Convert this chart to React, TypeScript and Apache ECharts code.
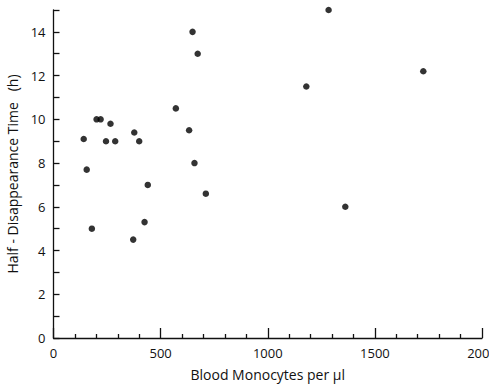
import React, { useEffect, useRef } from "react";
import * as echarts from "echarts";

const monocytes = [141, 155, 201, 220, 245, 266, 288, 179, 377, 400, 372, 425, 440, 571, 633, 649, 658, 673, 711, 1180, 1284, 1362, 1726];
const halfTime = [9.1, 7.7, 10.0, 10.0, 9.0, 9.8, 9.0, 5.0, 9.4, 9.0, 4.5, 5.3, 7.0, 10.5, 9.5, 14.0, 8.0, 13.0, 6.6, 11.5, 15.0, 6.0, 12.2];
const xTitle = "Blood Monocytes per \u03bcl";
const yTitle = "Half - Disappearance Time   (h)";

export default function App() {
  const ref = useRef<HTMLDivElement>(null);
  useEffect(() => {
    const chart = echarts.init(ref.current!, null, { renderer: "svg" });
    const font = "Open Sans";
    chart.setOption({
      animation: false,
      backgroundColor: "#fff",
      textStyle: { fontFamily: font, color: "#111" },
      grid: { left: 53.5, right: 7, top: 10, bottom: 47, outerBoundsMode: "none", containLabel: false },
      xAxis: {
        type: "value",
        min: 0,
        max: 2000,
        interval: 500,
        name: xTitle,
        nameLocation: "middle",
        nameGap: 29,
        nameTextStyle: { fontSize: 14, color: "#111", fontFamily: font },
        axisLine: { show: true, lineStyle: { color: "#111", width: 1.3 } },
        axisTick: { show: true, inside: true, length: 10, lineStyle: { color: "#111", width: 1.3 } },
        minorTick: { show: true, splitNumber: 5, length: 4, lineStyle: { color: "#111", width: 1.3 } },
        axisLabel: {
          fontSize: 13,
          color: "#111",
          margin: 8,
          fontFamily: font,
          formatter: (v: number) => String(v),
        },
        splitLine: { show: false },
      },
      yAxis: {
        type: "value",
        min: 0,
        max: 15,
        interval: 1,
        name: yTitle,
        nameLocation: "middle",
        nameGap: 30,
        nameTextStyle: { fontSize: 14, color: "#111", fontFamily: font },
        axisLine: { show: true, lineStyle: { color: "#111", width: 1.3 } },
        axisTick: { show: true, inside: true, length: 6, lineStyle: { color: "#111", width: 1.3 } },
        axisLabel: {
          fontSize: 13,
          color: "#111",
          margin: 8,
          fontFamily: font,
          formatter: (v: number) => (v % 2 === 0 ? String(v) : ""),
        },
        splitLine: { show: false },
      },
      series: [
        {
          type: "scatter",
          data: monocytes.map((x, i) => [x, halfTime[i]]),
          symbol: "circle",
          symbolSize: 6.5,
          itemStyle: { color: "#000" },
          clip: false,
        },
      ],
    });
    return () => chart.dispose();
  }, []);
  return (
    <div
      ref={ref}
      style={{ position: "absolute", left: 0, top: 0, width: 489, height: 385, background: "#fff" }}
    />
  );
}
